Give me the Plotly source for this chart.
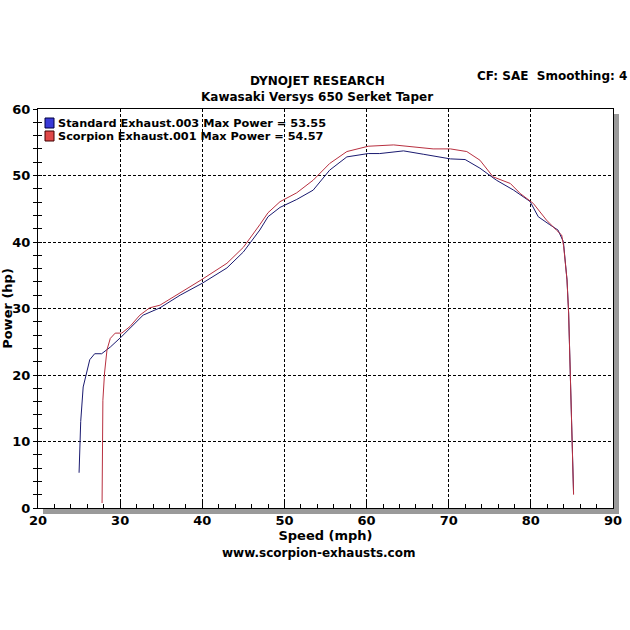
import plotly.graph_objects as go

std_speed = [25.0, 25.2, 25.5, 25.9, 26.3, 26.9, 27.75, 28.8, 30.2, 32.8, 34.85, 37.3,
             40.0, 43.0, 45.0, 47.0, 48.0, 49.46, 51.5, 53.5, 55.5, 57.6, 60.2, 61.6,
             64.5, 66.9, 70.2, 72.0, 73.8, 75.8, 77.9, 79.9, 80.9, 82.3, 83.3, 83.96,
             84.4, 84.6, 84.8, 85.0, 85.2]
std_hp = [5.3, 13.0, 18.2, 20.3, 22.3, 23.2, 23.2, 24.2, 25.8, 29.0, 30.1, 32.0,
          33.8, 36.1, 38.5, 41.8, 43.8, 45.2, 46.4, 47.8, 50.8, 52.8, 53.3, 53.3,
          53.7, 53.2, 52.5, 52.4, 51.1, 49.3, 47.8, 46.1, 43.8, 42.6, 41.8, 40.05,
          34.3, 29.3, 19.2, 9.2, 2.2]

sc_speed = [27.8, 27.9, 28.1, 28.4, 28.8, 29.4, 30.2, 31.2, 32.4, 33.6, 34.85, 37.3,
            40.0, 43.0, 45.0, 47.0, 48.0, 49.46, 51.5, 53.5, 55.5, 57.6, 60.2, 63.3,
            66.5, 68.1, 70.2, 72.2, 73.8, 75.4, 77.5, 78.7, 80.3, 81.9, 83.1, 83.75,
            84.0, 84.4, 84.6, 84.8, 85.0, 85.2]
sc_hp = [0.75, 16.2, 20.3, 23.8, 25.5, 26.3, 26.3, 27.3, 29.0, 30.1, 30.5, 32.3,
         34.4, 36.8, 39.2, 42.6, 44.4, 46.06, 47.4, 49.3, 51.8, 53.6, 54.4, 54.6,
         54.2, 54.0, 54.0, 53.6, 52.3, 49.8, 48.8, 47.3, 45.8, 43.3, 41.8, 41.05,
         39.3, 34.3, 29.3, 19.2, 9.2, 2.0]

std_label = "Standard Exhaust.003 Max Power = 53.55"
sc_label = "Scorpion Exhaust.001 Max Power = 54.57"

x_ticks = [20, 30, 40, 50, 60, 70, 80, 90]
y_ticks = [0, 10, 20, 30, 40, 50, 60]

FONT = "DejaVu Sans"
STD_COLOR = "#1a1a70"
SC_COLOR = "#b83040"

fig = go.Figure()
fig.add_trace(go.Scatter(x=std_speed, y=std_hp, mode="lines", name=std_label,
                         line=dict(color=STD_COLOR, width=1), showlegend=False))
fig.add_trace(go.Scatter(x=sc_speed, y=sc_hp, mode="lines", name=sc_label,
                         line=dict(color=SC_COLOR, width=1), showlegend=False))
# invisible trace on secondary y axis for crossing ticks
fig.add_trace(go.Scatter(x=[None], y=[None], yaxis="y2", showlegend=False))

L, R, T, B = 38, 613, 109, 508
W = H = 630
pw, ph = R - L, B - T

def px(x):
    return (x - L) / pw

def py(y):
    return (B - y) / ph

shapes = [
    dict(type="rect", xref="paper", yref="paper",
         x0=px(R), x1=px(R + 6), y0=py(B + 6), y1=py(T + 5),
         fillcolor="#9a9a9a", line=dict(width=0), layer="below"),
    dict(type="rect", xref="paper", yref="paper",
         x0=px(L + 5), x1=px(R + 6), y0=py(B + 6), y1=py(B),
         fillcolor="#9a9a9a", line=dict(width=0), layer="below"),
]
annotations = [
    dict(text="<b>DYNOJET RESEARCH</b>", x=px(317), y=py(81), xanchor="center",
         font=dict(family=FONT, size=12)),
    dict(text="<b>Kawasaki Versys 650 Serket Taper</b>", x=px(317), y=py(97),
         xanchor="center", font=dict(family=FONT, size=12)),
    dict(text="<b>CF: SAE  Smoothing: 4</b>", x=px(629), y=py(76), xanchor="right",
         font=dict(family=FONT, size=12)),
    dict(text="<b>www.scorpion-exhausts.com</b>", x=px(318), y=py(553),
         xanchor="center", font=dict(family=FONT, size=12)),
]
# legend swatches + labels
for i, (lab, fill, edge) in enumerate([(std_label, "#3a3ad8", "#000040"),
                                        (sc_label, "#e04848", "#400000")]):
    cy = 123 + 13 * i
    shapes.append(dict(type="rect", xref="paper", yref="paper",
                       x0=px(45), x1=px(54), y0=py(cy + 5), y1=py(cy - 5),
                       fillcolor=fill, line=dict(color=edge, width=1), layer="above"))
    annotations.append(dict(text="<b>" + lab + "</b>", x=px(56), y=py(cy),
                            xanchor="left", font=dict(family=FONT, size=11.3)))
for a in annotations:
    a.update(xref="paper", yref="paper", showarrow=False, yanchor="middle")

fig.update_layout(
    width=W, height=H,
    margin=dict(l=L, r=W - R, t=T, b=H - B, pad=0),
    paper_bgcolor="white", plot_bgcolor="white",
    font=dict(family=FONT, color="black", size=12),
    showlegend=False,
    xaxis=dict(range=[20, 90], tickvals=x_ticks, ticks="inside", ticklen=6,
               automargin=False,
               tickcolor="black", showline=True, linecolor="black", mirror=True,
               showgrid=True, gridcolor="black", griddash="3px,2px", gridwidth=1,
               zeroline=False,
               tickfont=dict(family=FONT, size=13, color="black", weight="bold"),
               minor=dict(dtick=2, ticks="inside", ticklen=4, tickcolor="black",
                          showgrid=False),
               title=dict(text="Speed (mph)", standoff=0,
                          font=dict(family=FONT, size=13, color="black", weight="bold"))),
    yaxis=dict(range=[0, 60], tickvals=y_ticks, ticks="outside", ticklen=4,
               automargin=False,
               tickcolor="black", showline=True, linecolor="black", mirror=True,
               showgrid=True, gridcolor="black", griddash="3px,2px", gridwidth=1,
               zeroline=False,
               tickfont=dict(family=FONT, size=13, color="black", weight="bold"),
               minor=dict(dtick=2, ticks="outside", ticklen=4, tickcolor="black",
                          showgrid=False),
               title=dict(text="Power (hp)", standoff=4,
                          font=dict(family=FONT, size=13, color="black", weight="bold"))),
    yaxis2=dict(range=[0, 60], overlaying="y", side="left", showgrid=False,
                automargin=False,
                showticklabels=False, ticks="inside", ticklen=4, tickcolor="black",
                tickvals=y_ticks, zeroline=False,
                minor=dict(dtick=2, ticks="inside", ticklen=4, tickcolor="black")),
    shapes=shapes,
    annotations=annotations,
)

fig.write_html("out.html")
